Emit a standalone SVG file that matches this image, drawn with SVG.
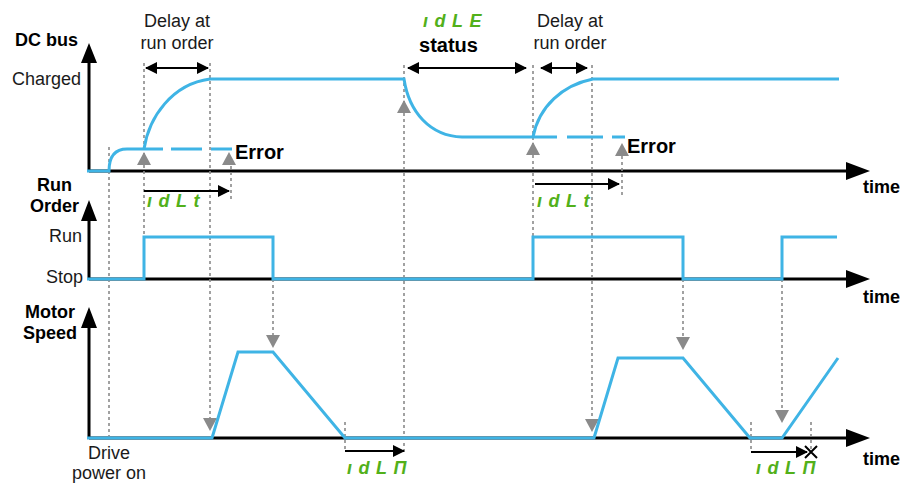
<svg xmlns="http://www.w3.org/2000/svg" width="910" height="484" viewBox="0 0 910 484">
<defs>
<style>
.t{font-family:"Liberation Sans",Arial,sans-serif;font-size:18px;fill:#1a1a1a}
.b{font-weight:bold;fill:#000}
.e{font-size:20px}
.g{font-family:"Liberation Sans",Arial,sans-serif;font-size:18px;font-weight:bold;font-style:italic;fill:#52b01a;letter-spacing:6.5px}
.ax{stroke:#000;stroke-width:3;fill:none}
.sig{stroke:#3fb4e5;stroke-width:3;fill:none;stroke-linejoin:miter}
.dot{stroke:#8a8a8a;stroke-width:1.6;fill:none;stroke-dasharray:3 3}
.ar{stroke:#000;stroke-width:2;fill:none}
.gh{fill:#8a8a8a}
</style>
<marker id="ah" viewBox="0 0 12 12" refX="11" refY="6" markerWidth="12" markerHeight="12" markerUnits="userSpaceOnUse" orient="auto-start-reverse"><path d="M0,0 L12,6 L0,12 Z" fill="#000"/></marker>
</defs>

<g id="axes">
<path class="ax" d="M89,171 V60 M89,171 H847"/>
<path d="M81,63 L89,43 L97,63 Z M846,162 L870,171 L846,180 Z"/>
<path class="ax" d="M89,279 V218 M89,279 H847"/>
<path d="M81,221 L89,200 L97,221 Z M846,270 L870,279 L846,288 Z"/>
<path class="ax" d="M89,438 V325 M89,438 H847"/>
<path d="M81,328 L89,307 L97,328 Z M846,429 L870,438 L846,447 Z"/>
</g>

<g id="labels">
<text class="t b" x="46.5" y="46" text-anchor="middle">DC bus</text>
<text class="t" x="81" y="85" text-anchor="end">Charged</text>
<text class="t b" x="54.5" y="191" text-anchor="middle">Run</text>
<text class="t b" x="54.5" y="212" text-anchor="middle">Order</text>
<text class="t" x="82" y="242" text-anchor="end">Run</text>
<text class="t" x="83" y="283" text-anchor="end">Stop</text>
<text class="t b" x="50" y="318" text-anchor="middle">Motor</text>
<text class="t b" x="50" y="339" text-anchor="middle">Speed</text>
<text class="t" x="109" y="459" text-anchor="middle">Drive</text>
<text class="t" x="109" y="479" text-anchor="middle">power on</text>
<text class="t b" x="863" y="193">time</text>
<text class="t b" x="863" y="303">time</text>
<text class="t b" x="863" y="465">time</text>
<text class="t" x="177" y="27" text-anchor="middle">Delay at</text>
<text class="t" x="177" y="49" text-anchor="middle">run order</text>
<text class="t" x="570" y="27" text-anchor="middle">Delay at</text>
<text class="t" x="570" y="49" text-anchor="middle">run order</text>
<text class="t b e" x="448.5" y="52" text-anchor="middle">status</text>
<text class="t b e" x="235" y="159">Error</text>
<text class="t b e" x="627" y="153">Error</text>
<text class="g" x="423" y="27">ıdLE</text>
<text class="g" x="147" y="207">ıdLt</text>
<text class="g" x="537" y="207">ıdLt</text>
<text class="g" x="347" y="474">ıdLΠ</text>
<text class="g" x="756" y="474">ıdLΠ</text>
</g>

<g id="connectors">
<path class="dot" d="M109,147 V440"/>
<path class="dot" d="M144,63 V279"/>
<path class="dot" d="M210,63 V420"/>
<path class="dot" d="M231,160 V202"/>
<path class="dot" d="M273,279 V338"/>
<path class="dot" d="M345,422 V452"/>
<path class="dot" d="M404,65 V455"/>
<path class="dot" d="M533,65 V279"/>
<path class="dot" d="M592,65 V422"/>
<path class="dot" d="M622,150 V196"/>
<path class="dot" d="M683,279 V340"/>
<path class="dot" d="M751,422 V452"/>
<path class="dot" d="M782,279 V413"/>
<path class="dot" d="M811,422 V452"/>
<path class="gh" d="M144,152 L151,165 L137,165 Z"/>
<path class="gh" d="M229,152 L236,165 L222,165 Z"/>
<path class="gh" d="M404,100 L411,113 L397,113 Z"/>
<path class="gh" d="M533,142 L540,155 L526,155 Z"/>
<path class="gh" d="M622,143 L629,156 L615,156 Z"/>
<path class="gh" d="M210,431 L203,418 L217,418 Z"/>
<path class="gh" d="M273,348 L266,335 L280,335 Z"/>
<path class="gh" d="M592,432 L585,419 L599,419 Z"/>
<path class="gh" d="M683,350 L676,337 L690,337 Z"/>
<path class="gh" d="M782,423 L775,410 L789,410 Z"/>
<path class="ar" d="M146,68 H208" marker-start="url(#ah)" marker-end="url(#ah)"/>
<path class="ar" d="M408,68 H526" marker-start="url(#ah)" marker-end="url(#ah)"/>
<path class="ar" d="M541,68 H587" marker-start="url(#ah)" marker-end="url(#ah)"/>
<path class="ar" d="M144,191 H229" marker-end="url(#ah)"/>
<path class="ar" d="M535,184 H619" marker-end="url(#ah)"/>
<path class="ar" d="M345,451 H404" marker-end="url(#ah)"/>
<path class="ar" d="M751,452 H807" marker-end="url(#ah)"/>
<path class="ar" d="M805,446 L817,458 M817,446 L805,458"/>
</g>

<g id="signals">
<path class="sig" d="M87,171 H109 C109,156 115,149 127,149 H163"/>
<path class="sig" d="M171,149 H202 M211,149 H232"/>
<path class="sig" d="M144,149 C149,117 172,84 210,79 H404 C409,112 430,136 462,137 H557"/>
<path class="sig" d="M533,137 C539,106 563,85 593,79 H839"/>
<path class="sig" d="M567,137 H603 M612,137 H625"/>
<path class="sig" d="M87,279 H144 V237 H273 V279 H533 V237 H683 V279 H782 V237 H837"/>
<path class="sig" d="M87,438 H212 L238,352 H273 L345,438 H594 L618,358 H683 L750,438 H782 L838,358"/>
</g>
</svg>
